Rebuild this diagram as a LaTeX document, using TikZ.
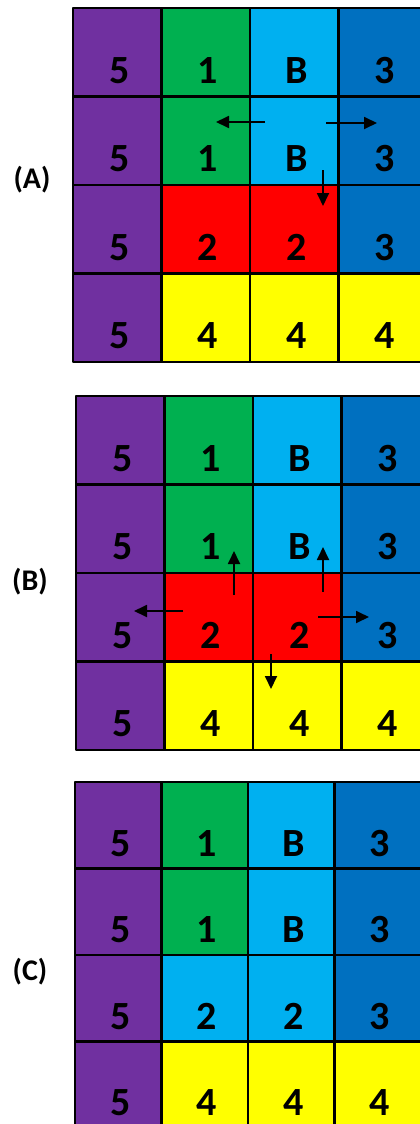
\documentclass[tikz,border=0pt]{standalone}
\usepackage{fontspec}
\setmainfont{Carlito}
\usetikzlibrary{arrows.meta}

\definecolor{purp}{HTML}{7030A0}
\definecolor{grn}{HTML}{00B050}
\definecolor{lblue}{HTML}{00B0F0}
\definecolor{dblue}{HTML}{0070C0}
\definecolor{yel}{HTML}{FFFF00}
\definecolor{rd}{HTML}{FF0000}

\begin{document}
\begin{tikzpicture}[x=1pt, y=-1pt, line join=round,
	cell/.style={draw, line width=2.8pt, inner sep=0pt, minimum width=#1 pt, minimum height=#1 pt},
	num/.style={font=\fontsize{40}{40}\selectfont\bfseries, inner sep=0pt},
	tag/.style={font=\fontsize{30}{30}\selectfont\bfseries, inner sep=0pt},
	flow/.style={line width=1.8pt, -{Triangle[length=13pt, width=12pt]}}]
	\useasboundingbox (0, 0) rectangle (420, 1124);
	\foreach \g/\ox/\oy/\s/\midcol in {A/73/8/88.5/rd, B/76/396/88.5/rd, C/75/782/86.5/lblue} {
		\foreach \r/\cols in {0/{purp/5,grn/1,lblue/B,dblue/3}, 1/{purp/5,grn/1,lblue/B,dblue/3}, 2/{purp/5,\midcol/2,\midcol/2,dblue/3}, 3/{purp/5,yel/4,yel/4,yel/4}} {
			\foreach \f/\t [count=\c from 0] in \cols {
				\node[cell=\s, fill=\f] (\g-\r-\c) at ({\ox+\s*(\c+0.5)}, {\oy+\s*(\r+0.5)}) {};
				\node[num] (\g-n-\r-\c) at ([xshift=2pt, yshift=-18pt]\g-\r-\c) {\t};
			}
		}
	}
	\node[tag] (labA) at (32, 180) {(A)};
	\node[tag] (labB) at (30, 582) {(B)};
	\node[tag] (labC) at (30, 972) {(C)};
	% moves out of the B cells
	\foreach \n/\xa/\ya/\xb/\yb in {a1/265/122/216/122, a2/326/123/377/123, a3/323/170/323/206,
		b1/234/595/234/551, b2/323/592/323/547, b3/183/611/134/611, b4/318/617/369/617, b5/271/654/271/689} {
		\coordinate (\n-s) at (\xa, \ya);
		\coordinate (\n-e) at (\xb, \yb);
		\draw[flow] (\n-s) -- (\n-e);
	}
\end{tikzpicture}
\end{document}
